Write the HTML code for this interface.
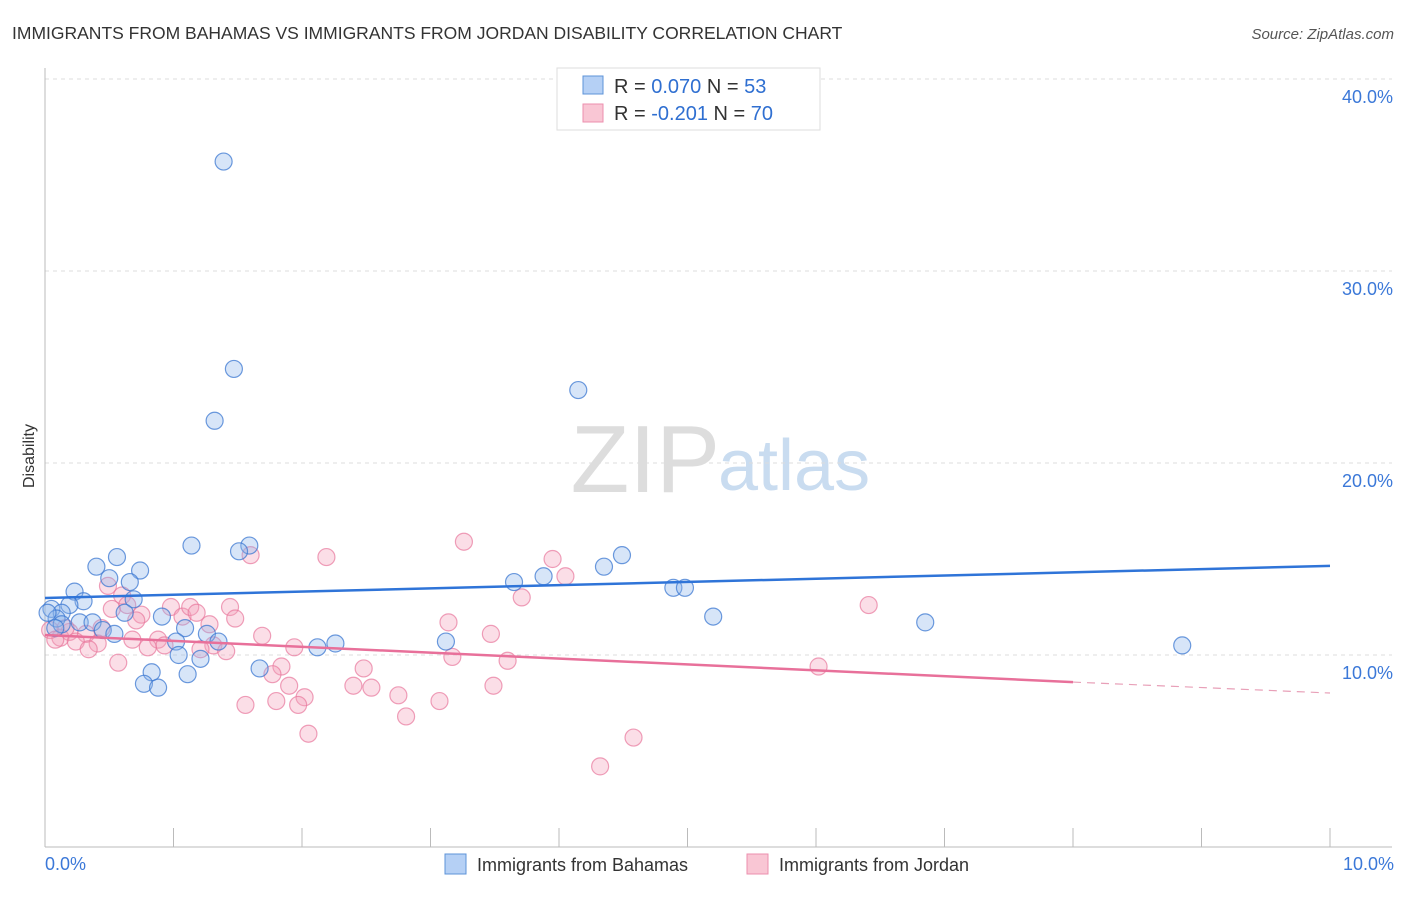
<!DOCTYPE html>
<html><head><meta charset="utf-8"><style>
body{margin:0;background:#fff;font-family:"Liberation Sans",sans-serif;}
svg text{font-family:"Liberation Sans",sans-serif;}
</style></head><body>
<svg id="chart" width="1406" height="892">
<text x="12" y="39" font-size="17.5" fill="#333">IMMIGRANTS FROM BAHAMAS VS IMMIGRANTS FROM JORDAN DISABILITY CORRELATION CHART</text>
<text x="1394" y="39" font-size="15" fill="#555" font-style="italic" text-anchor="end">Source: ZipAtlas.com</text>
<text x="34" y="456" font-size="16" fill="#333" transform="rotate(-90 34 456)" text-anchor="middle">Disability</text>
<text x="720" y="492" font-size="96" fill="#ddd" font-family="Liberation Serif" text-anchor="end">ZIP</text>
<text x="718" y="490" font-size="72" fill="#c9dcf0" text-anchor="start">atlas</text>
<g id="grid"></g><g id="axes"></g><g id="pts"></g><g id="trends"></g>
<g>
<rect x="557" y="68" width="263" height="62" fill="#fff" stroke="#ddd"/>
<rect x="583" y="76" width="20" height="18" fill="#b5d0f5" stroke="#5d93d8"/>
<rect x="583" y="104" width="20" height="18" fill="#f9c6d4" stroke="#ec8fae"/>
<text x="614" y="93" font-size="20" fill="#333">R = <tspan fill="#2f6fd1">0.070</tspan>   N = <tspan fill="#2f6fd1">53</tspan></text>
<text x="614" y="120" font-size="20" fill="#333">R = <tspan fill="#2f6fd1">-0.201</tspan>   N = <tspan fill="#2f6fd1">70</tspan></text>
</g>
<g>
<rect x="445" y="854" width="21" height="20" fill="#b5d0f5" stroke="#5d93d8"/>
<text x="477" y="871" font-size="18" fill="#333">Immigrants from Bahamas</text>
<rect x="747" y="854" width="21" height="20" fill="#f9c6d4" stroke="#ec8fae"/>
<text x="779" y="871" font-size="18" fill="#333">Immigrants from Jordan</text>
</g>
</svg>
<script>
const yTicks=[10,20,30,40];
const yTickLabels=["10.0%","20.0%","30.0%","40.0%"];
const xTickLabels=["0.0%","10.0%"];
const blueX=[1.39,1.47,1.32,4.15,1.14,1.59,1.51,0.56,0.40,0.74,0.50,0.66,0.23,0.30,0.69,0.19,0.05,0.13,0.62,0.91,0.09,0.27,0.37,0.45,0.54,1.09,1.26,1.02,1.35,1.04,1.21,1.67,0.83,0.77,0.88,1.11,2.12,2.26,3.12,3.65,3.88,4.35,4.49,4.89,4.98,5.2,6.85,8.85,0.13,0.02,0.08];
const blueY=[35.7,24.9,22.2,23.8,15.7,15.7,15.4,15.1,14.6,14.4,14.0,13.8,13.3,12.8,12.9,12.6,12.4,12.2,12.2,12.0,11.9,11.7,11.7,11.3,11.1,11.4,11.1,10.7,10.7,10.0,9.8,9.3,9.1,8.5,8.3,9.0,10.4,10.6,10.7,13.8,14.1,14.6,15.2,13.5,13.5,12.0,11.7,10.5,11.6,12.2,11.4];
const pinkX=[3.26,2.19,3.95,1.6,4.05,3.71,6.41,0.49,0.60,0.64,0.52,0.75,0.71,0.98,1.07,1.13,1.18,1.44,1.48,1.28,3.14,3.47,1.69,0.44,0.32,0.19,0.12,0.24,0.41,0.68,0.88,0.93,0.80,1.31,1.41,1.21,0.34,1.94,3.17,0.57,1.84,1.77,2.48,3.6,6.02,1.90,2.40,2.54,3.49,2.02,2.75,1.56,1.80,1.97,3.07,2.81,2.05,4.58,4.32,0.04,0.08,0.16];
const pinkY=[15.9,15.1,15.0,15.2,14.1,13.0,12.6,13.6,13.1,12.6,12.4,12.1,11.8,12.5,12.0,12.5,12.2,12.5,11.9,11.6,11.7,11.1,11.0,11.4,11.1,11.2,10.9,10.7,10.6,10.8,10.8,10.5,10.4,10.5,10.2,10.3,10.3,10.4,9.9,9.6,9.4,9.0,9.3,9.7,9.4,8.4,8.4,8.3,8.4,7.8,7.9,7.4,7.6,7.4,7.6,6.8,5.9,5.7,4.2,11.3,10.8,11.4];
const blueTrend=[[0,12.97],[10,14.64]];
const pinkTrendSolid=[[0,11.04],[8,8.59]];
const pinkTrendDash=[[8,8.59],[10,8.02]];
const X=v=>45+v*128.5, Y=v=>847-v*19.2;
const NS="http://www.w3.org/2000/svg";
function mk(tag,attrs,parent){const e=document.createElementNS(NS,tag);for(const k in attrs)e.setAttribute(k,attrs[k]);document.getElementById(parent).appendChild(e);return e;}
yTicks.forEach((t,i)=>{
 const l=mk('line',{x1:45,x2:1392,y1:Y(t),y2:Y(t),stroke:'#ddd','stroke-dasharray':'4,4'},'grid');
 
 
 const tx=mk('text',{x:1393,y:Y(t)+24,'font-size':18,fill:'#3b78d8','text-anchor':'end'},'grid');
 tx.textContent=yTickLabels[i];
 
 
});
const ax=mk('line',{x1:45,x2:1392,y1:847,y2:847,stroke:'#bbb'},'axes');


const ay=mk('line',{x1:45,x2:45,y1:68,y2:847,stroke:'#bbb'},'axes');


for(let i=1;i<=10;i++){const t=mk('line',{x1:X(i),x2:X(i),y1:828,y2:847,stroke:'#bbb'},'axes');
 
 }
[[0,'start',45],[10,'end',1394]].forEach((d,i)=>{const t=mk('text',{x:d[2],y:870,'font-size':18,fill:'#3b78d8','text-anchor':d[1]},'axes');t.textContent=xTickLabels[i];
 
 });
pinkX.forEach((x,i)=>{const c=mk('circle',{cx:X(x),cy:Y(pinkY[i]),r:8.5,fill:'rgba(244,160,186,0.35)',stroke:'rgba(232,120,156,0.7)','stroke-width':1.2},'pts');
 
 });
blueX.forEach((x,i)=>{const c=mk('circle',{cx:X(x),cy:Y(blueY[i]),r:8.5,fill:'rgba(140,180,235,0.35)',stroke:'rgba(60,120,210,0.75)','stroke-width':1.2},'pts');
 
 });
function ln(p,col,dash,name){const l=mk('line',{x1:X(p[0][0]),y1:Y(p[0][1]),x2:X(p[1][0]),y2:Y(p[1][1]),stroke:col,'stroke-width':dash?1.2:2.5},'trends');if(dash)l.setAttribute('stroke-dasharray','8,6');
 
 }
ln(blueTrend,'#2f74d8',false,'trend-bahamas');
ln(pinkTrendSolid,'#e8709a',false,'trend-jordan');
ln(pinkTrendDash,'#e8a0b8',true,'trend-jordan-extrapolated');
</script>
</body></html>
